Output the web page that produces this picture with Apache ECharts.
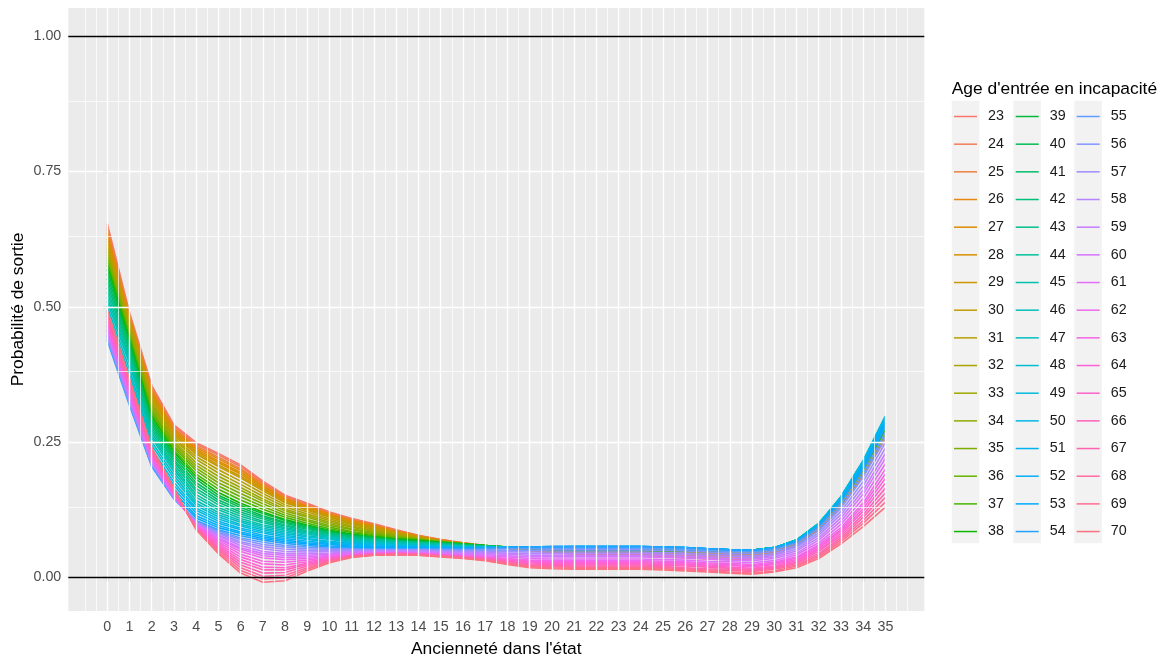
<!DOCTYPE html>
<html>
<head>
<meta charset="utf-8">
<script src="https://cdn.jsdelivr.net/npm/echarts@6/dist/echarts.min.js"></script>
<style>
  html, body { margin: 0; padding: 0; background: #ffffff; }
  #chart { width: 1163px; height: 660px; }
</style>
</head>
<body>
<div id="chart"></div>
<script>
// Ancienneté (years spent in the state) on the x axis
const anciennete = [0,1,2,3,4,5,6,7,8,9,10,11,12,13,14,15,16,17,18,19,20,21,22,23,24,25,26,27,28,29,30,31,32,33,34,35];
// Age at entry into incapacity, one curve per age
const ages = [23,24,25,26,27,28,29,30,31,32,33,34,35,36,37,38,39,40,41,42,43,44,45,46,
              47,48,49,50,51,52,53,54,55,56,57,58,59,60,61,62,63,64,65,66,67,68,69,70];
const yTicks = [0, 0.25, 0.5, 0.75, 1];

// Exit probability by ancienneté, for each entry age
const age23 = [.654,.490,.355,.282,.249,.229,.208,.178,.152,.137,.121,.109,.099,.088,.078,.070,.064,.059,.054,.050,.046,.043,.042,.041,.040,.038,.036,.034,.033,.034,.042,.058,.088,.132,.188,.256];
const age24 = [.648,.487,.352,.279,.246,.226,.205,.175,.150,.135,.120,.108,.098,.087,.077,.070,.064,.059,.054,.050,.046,.044,.043,.042,.041,.039,.037,.036,.035,.036,.044,.059,.089,.133,.189,.257];
const age25 = [.643,.484,.349,.276,.243,.222,.201,.173,.148,.133,.118,.106,.097,.086,.077,.069,.063,.059,.054,.050,.047,.044,.043,.043,.042,.040,.039,.038,.038,.038,.046,.061,.090,.134,.190,.258];
const age26 = [.637,.481,.346,.273,.240,.219,.198,.170,.146,.131,.117,.105,.096,.085,.076,.069,.063,.059,.054,.050,.047,.045,.044,.044,.043,.041,.040,.040,.040,.040,.048,.062,.091,.135,.191,.259];
const age27 = [.632,.479,.342,.271,.237,.215,.194,.168,.144,.130,.115,.104,.094,.085,.076,.068,.063,.058,.054,.051,.048,.046,.045,.044,.044,.043,.042,.041,.042,.043,.049,.064,.093,.135,.191,.259];
const age28 = [.626,.476,.339,.268,.234,.212,.191,.165,.142,.128,.114,.103,.093,.084,.075,.068,.063,.058,.054,.051,.048,.047,.046,.045,.045,.044,.043,.043,.044,.045,.051,.065,.094,.136,.192,.260];
const age29 = [.621,.473,.336,.265,.231,.208,.187,.163,.140,.126,.112,.101,.092,.083,.075,.067,.062,.058,.054,.051,.049,.047,.046,.046,.046,.045,.045,.045,.047,.047,.053,.067,.095,.137,.193,.261];
const age30 = [.615,.470,.333,.262,.228,.205,.184,.160,.138,.124,.111,.100,.091,.082,.074,.067,.062,.058,.054,.051,.049,.048,.047,.047,.047,.046,.046,.047,.049,.049,.055,.068,.096,.138,.194,.262];
const age31 = [.610,.466,.329,.258,.223,.199,.178,.155,.134,.121,.108,.098,.089,.081,.073,.067,.062,.058,.054,.051,.049,.048,.047,.047,.047,.047,.047,.047,.049,.049,.055,.068,.096,.139,.195,.264];
const age32 = [.606,.463,.324,.255,.218,.193,.172,.150,.130,.117,.105,.095,.087,.079,.073,.067,.062,.058,.055,.052,.050,.049,.048,.048,.048,.047,.047,.048,.049,.049,.055,.068,.097,.139,.196,.265];
const age33 = [.601,.459,.320,.251,.212,.187,.166,.145,.126,.114,.102,.093,.085,.078,.072,.066,.062,.058,.055,.052,.050,.049,.048,.048,.048,.048,.048,.048,.049,.049,.055,.068,.097,.140,.197,.267];
const age34 = [.596,.455,.316,.247,.207,.181,.161,.141,.123,.111,.099,.090,.083,.077,.071,.066,.062,.059,.055,.052,.050,.049,.049,.049,.049,.048,.048,.049,.050,.050,.055,.068,.097,.140,.198,.269];
const age35 = [.591,.451,.311,.243,.202,.175,.155,.136,.119,.107,.096,.088,.081,.075,.070,.066,.062,.059,.055,.052,.050,.049,.049,.049,.049,.049,.049,.049,.050,.050,.055,.068,.097,.141,.199,.270];
const age36 = [.587,.448,.307,.240,.197,.169,.149,.131,.115,.104,.093,.085,.079,.074,.070,.066,.062,.059,.056,.053,.051,.050,.049,.049,.049,.049,.049,.049,.050,.050,.055,.068,.098,.141,.200,.272];
const age37 = [.582,.444,.302,.236,.191,.163,.143,.126,.111,.100,.090,.083,.077,.072,.069,.065,.062,.059,.056,.053,.051,.050,.050,.050,.050,.050,.050,.050,.050,.050,.055,.068,.098,.142,.201,.273];
const age38 = [.577,.440,.298,.232,.186,.157,.137,.121,.107,.097,.087,.080,.075,.071,.068,.065,.062,.059,.056,.053,.051,.050,.050,.050,.050,.050,.050,.050,.050,.050,.055,.068,.098,.142,.202,.275];
const age39 = [.569,.434,.293,.227,.181,.152,.133,.118,.105,.095,.085,.079,.074,.070,.067,.064,.061,.059,.056,.053,.052,.051,.051,.051,.051,.051,.051,.050,.050,.050,.055,.068,.098,.143,.203,.277];
const age40 = [.560,.429,.288,.223,.175,.148,.129,.114,.102,.093,.084,.077,.073,.069,.066,.064,.061,.058,.056,.054,.052,.052,.052,.052,.052,.051,.051,.051,.050,.050,.055,.068,.099,.143,.205,.280];
const age41 = [.552,.423,.283,.218,.170,.143,.125,.111,.100,.091,.082,.076,.072,.068,.065,.063,.060,.058,.056,.054,.053,.052,.052,.052,.052,.052,.052,.051,.050,.050,.055,.068,.099,.144,.206,.282];
const age42 = [.544,.418,.278,.214,.164,.139,.121,.108,.097,.089,.081,.075,.071,.067,.065,.062,.060,.058,.056,.054,.053,.053,.053,.053,.053,.053,.052,.052,.051,.050,.055,.069,.099,.145,.207,.284];
const age43 = [.535,.412,.273,.209,.159,.134,.117,.104,.095,.086,.079,.073,.069,.066,.064,.061,.059,.057,.055,.054,.054,.054,.054,.054,.054,.053,.053,.052,.051,.050,.055,.069,.099,.145,.208,.286];
const age44 = [.527,.406,.268,.204,.153,.129,.113,.101,.092,.084,.077,.072,.068,.065,.063,.061,.058,.057,.055,.055,.054,.055,.055,.055,.055,.054,.053,.052,.051,.050,.055,.069,.100,.146,.210,.289];
const age45 = [.518,.401,.263,.200,.148,.125,.109,.097,.090,.082,.076,.070,.067,.064,.062,.060,.058,.056,.055,.055,.055,.055,.055,.055,.055,.054,.054,.053,.051,.050,.055,.069,.100,.146,.211,.291];
const age46 = [.510,.395,.258,.195,.142,.120,.105,.094,.087,.080,.074,.069,.066,.063,.061,.059,.057,.056,.055,.055,.055,.056,.056,.056,.056,.055,.054,.053,.051,.050,.055,.069,.100,.147,.212,.293];
const age47 = [.501,.385,.251,.189,.137,.116,.102,.091,.084,.077,.072,.067,.064,.062,.060,.058,.057,.056,.055,.055,.055,.056,.056,.056,.056,.055,.054,.053,.051,.050,.055,.069,.099,.149,.215,.297];
const age48 = [.492,.376,.245,.183,.133,.112,.098,.088,.081,.075,.070,.065,.063,.061,.059,.058,.056,.056,.055,.055,.056,.056,.056,.056,.056,.055,.054,.053,.051,.050,.055,.068,.099,.149,.216,.298];
const age49 = [.483,.366,.238,.176,.128,.108,.095,.085,.078,.072,.067,.063,.061,.059,.058,.057,.056,.055,.055,.055,.056,.056,.056,.056,.056,.055,.054,.053,.051,.050,.055,.068,.098,.149,.215,.298];
const age50 = [.474,.357,.232,.170,.124,.104,.091,.082,.075,.070,.065,.062,.060,.058,.057,.056,.055,.055,.055,.056,.056,.057,.057,.057,.057,.056,.055,.053,.051,.050,.055,.068,.098,.148,.213,.295];
const age51 = [.465,.347,.225,.164,.119,.100,.088,.078,.072,.067,.063,.060,.058,.057,.056,.055,.055,.055,.055,.056,.056,.057,.057,.057,.057,.056,.055,.053,.051,.050,.054,.067,.097,.146,.210,.291];
const age52 = [.456,.337,.218,.158,.114,.096,.084,.075,.069,.064,.061,.058,.056,.056,.055,.055,.054,.055,.055,.056,.057,.057,.057,.057,.057,.056,.055,.053,.051,.050,.054,.067,.096,.144,.207,.287];
const age53 = [.447,.328,.212,.151,.110,.092,.081,.072,.066,.062,.058,.056,.055,.054,.054,.054,.054,.054,.055,.056,.057,.057,.057,.057,.057,.056,.055,.053,.051,.050,.054,.066,.096,.142,.204,.283];
const age54 = [.438,.318,.205,.145,.105,.088,.077,.069,.063,.059,.056,.054,.053,.053,.053,.053,.053,.054,.055,.056,.057,.057,.057,.057,.057,.056,.055,.053,.051,.050,.054,.066,.095,.140,.200,.278];
const age55 = [.441,.321,.207,.146,.104,.086,.073,.065,.059,.056,.054,.053,.052,.052,.052,.052,.051,.052,.053,.053,.054,.054,.054,.054,.054,.053,.052,.050,.048,.047,.051,.063,.091,.134,.192,.268];
const age56 = [.444,.324,.209,.147,.103,.083,.070,.061,.056,.053,.052,.051,.051,.051,.051,.050,.050,.050,.050,.050,.051,.051,.051,.051,.051,.050,.049,.047,.045,.044,.048,.059,.086,.128,.185,.259];
const age57 = [.447,.327,.211,.148,.102,.081,.066,.057,.052,.050,.050,.050,.050,.050,.050,.049,.048,.048,.048,.047,.047,.047,.047,.047,.047,.046,.045,.043,.042,.040,.044,.056,.082,.122,.177,.249];
const age58 = [.450,.330,.213,.149,.101,.078,.063,.053,.048,.047,.048,.048,.049,.049,.049,.048,.047,.046,.045,.044,.044,.044,.044,.044,.044,.043,.042,.040,.039,.037,.041,.052,.078,.116,.169,.239];
const age59 = [.453,.333,.214,.150,.099,.076,.059,.048,.044,.044,.045,.047,.047,.048,.047,.046,.045,.044,.043,.041,.041,.041,.041,.041,.041,.040,.039,.037,.035,.034,.038,.049,.073,.110,.161,.229];
const age60 = [.456,.336,.216,.150,.098,.073,.055,.044,.041,.041,.043,.045,.046,.047,.046,.045,.043,.042,.040,.038,.038,.038,.038,.038,.038,.037,.036,.034,.032,.031,.035,.045,.069,.104,.154,.220];
const age61 = [.459,.339,.218,.151,.097,.071,.052,.040,.037,.038,.041,.044,.045,.046,.045,.043,.042,.040,.038,.035,.034,.034,.034,.034,.034,.033,.032,.030,.029,.027,.031,.042,.064,.098,.146,.210];
const age62 = [.462,.342,.220,.152,.096,.068,.048,.036,.033,.035,.039,.042,.044,.045,.044,.042,.040,.038,.035,.032,.031,.031,.031,.031,.031,.030,.029,.027,.026,.024,.028,.038,.060,.092,.138,.200];
const age63 = [.466,.345,.223,.154,.095,.065,.043,.030,.028,.032,.038,.041,.044,.045,.044,.042,.039,.037,.034,.030,.029,.029,.029,.029,.029,.028,.027,.025,.024,.022,.026,.036,.057,.088,.133,.191];
const age64 = [.470,.348,.225,.155,.094,.062,.038,.025,.023,.029,.036,.041,.043,.044,.043,.041,.039,.036,.032,.029,.027,.027,.027,.027,.027,.026,.025,.023,.022,.020,.024,.033,.054,.085,.127,.183];
const age65 = [.474,.351,.228,.157,.093,.059,.033,.019,.018,.026,.035,.040,.043,.044,.043,.041,.038,.035,.031,.027,.025,.025,.025,.025,.025,.024,.023,.021,.019,.017,.021,.031,.051,.081,.122,.174];
const age66 = [.478,.355,.230,.159,.092,.056,.028,.014,.014,.024,.033,.040,.043,.044,.043,.040,.038,.035,.030,.025,.024,.023,.023,.023,.023,.022,.021,.019,.017,.015,.019,.028,.048,.077,.116,.165];
const age67 = [.482,.358,.233,.160,.091,.053,.023,.008,.009,.021,.032,.039,.042,.043,.042,.040,.037,.034,.028,.023,.022,.021,.021,.021,.021,.020,.018,.016,.015,.013,.017,.026,.044,.073,.111,.156];
const age68 = [.486,.361,.235,.162,.090,.050,.018,.002,.004,.018,.030,.038,.042,.043,.042,.039,.036,.033,.027,.022,.020,.019,.019,.019,.019,.018,.016,.014,.013,.011,.015,.023,.041,.070,.105,.148];
const age69 = [.490,.364,.238,.163,.089,.047,.013,-.003,-.001,.015,.029,.038,.041,.042,.041,.039,.036,.032,.025,.020,.018,.017,.017,.017,.017,.016,.014,.012,.010,.008,.012,.021,.038,.066,.100,.139];
const age70 = [.494,.367,.240,.165,.088,.044,.008,-.009,-.006,.012,.027,.037,.041,.042,.041,.038,.035,.031,.024,.018,.016,.015,.015,.015,.015,.014,.012,.010,.008,.006,.010,.018,.035,.062,.094,.130];

const curves = [age23,age24,age25,age26,age27,age28,age29,age30,age31,age32,age33,age34,age35,age36,age37,age38,
                age39,age40,age41,age42,age43,age44,age45,age46,age47,age48,age49,age50,age51,age52,age53,age54,
                age55,age56,age57,age58,age59,age60,age61,age62,age63,age64,age65,age66,age67,age68,age69,age70];

// Evenly spaced hues in polar CIE-Luv (chroma 100, luminance 65)
function hclHex(h, c, l) {
  const hr = h * Math.PI / 180;
  const U = c * Math.cos(hr), V = c * Math.sin(hr);
  const Xn = 95.047, Yn = 100, Zn = 108.883;
  const den = Xn + 15 * Yn + 3 * Zn;
  const un = 4 * Xn / den, vn = 9 * Yn / den;
  const Y = l > 8 ? Yn * Math.pow((l + 16) / 116, 3) : Yn * l / 903.3;
  const up = U / (13 * l) + un, vp = V / (13 * l) + vn;
  const X = 9 * Y * up / (4 * vp);
  const Z = -X / 3 - 5 * Y + 3 * Y / vp;
  const x = X / 100, y = Y / 100, z = Z / 100;
  const lin = [
    3.240479 * x - 1.537150 * y - 0.498535 * z,
    -0.969256 * x + 1.875992 * y + 0.041556 * z,
    0.055648 * x - 0.204043 * y + 1.057311 * z
  ];
  return '#' + lin.map(v => {
    let g = v > 0.00304 ? 1.055 * Math.pow(v, 1 / 2.4) - 0.055 : 12.92 * v;
    g = Math.min(1, Math.max(0, g));
    return Math.round(g * 255).toString(16).padStart(2, '0');
  }).join('');
}
const palette = ages.map((a, i) => hclHex(15 + i * 360 / ages.length, 100, 65));

const FONT = "'Liberation Sans', Arial, Helvetica, sans-serif";
const X_MIN = -1.75, X_MAX = 36.75;
const Y_MIN = -0.062, Y_MAX = 1.052;

// panel grid: major lines on the breaks, thin lines half-way between
const xMinorLines = [];
for (let v = -1; v <= 36; v += 0.5) {
  if (!(Number.isInteger(v) && v >= 0 && v <= 35)) xMinorLines.push(v);
}
const yMinorLines = [0.125, 0.375, 0.625, 0.875];

const gridLineData = [];
xMinorLines.forEach(v => gridLineData.push({ xAxis: v, lineStyle: { color: '#ffffff', width: 0.7, type: 'solid' } }));
yMinorLines.forEach(v => gridLineData.push({ yAxis: v, lineStyle: { color: '#ffffff', width: 0.7, type: 'solid' } }));
anciennete.forEach(v => gridLineData.push({ xAxis: v, lineStyle: { color: '#ffffff', width: 1.4, type: 'solid' } }));
yTicks.forEach(v => gridLineData.push({ yAxis: v, lineStyle: { color: '#ffffff', width: 1.4, type: 'solid' } }));

const series = [{
  type: 'line',
  data: [],
  silent: true,
  z: 1,
  markLine: {
    silent: true, symbol: ['none', 'none'], animation: false,
    label: { show: false }, emphasis: { disabled: true },
    data: gridLineData
  }
}];

curves.forEach((vals, i) => {
  series.push({
    name: String(ages[i]),
    type: 'line',
    data: anciennete.map((x, j) => [x, vals[j]]),
    showSymbol: false,
    symbol: 'none',
    z: 3,
    lineStyle: { width: 1.6, color: palette[i] },
    itemStyle: { color: palette[i] },
    emphasis: { disabled: true },
    animation: false
  });
});

// reference lines at 0 and 1
series.push({
  type: 'line',
  data: [],
  silent: true,
  z: 5,
  markLine: {
    silent: true, symbol: ['none', 'none'], animation: false,
    label: { show: false }, emphasis: { disabled: true },
    lineStyle: { color: '#000000', width: 1.3, type: 'solid' },
    data: [{ yAxis: 0 }, { yAxis: 1 }]
  }
});

const legendLeft = [954, 1015.7, 1076.7];
const legends = [0, 1, 2].map(c => ({
  data: ages.slice(c * 16, c * 16 + 16).map(String),
  orient: 'vertical',
  left: legendLeft[c],
  top: 109.5,
  padding: 0,
  itemWidth: 23,
  itemHeight: 1.5,
  itemGap: 13.67,
  icon: 'rect',
  selectedMode: false,
  z: 5,
  textStyle: { fontFamily: FONT, fontSize: 14.3, color: '#1a1a1a', lineHeight: 14, padding: [0, 0, 0, 6] }
}));

const keyBoxes = [951.7, 1013.3, 1074.3].map(x => ({
  type: 'rect', z: 0, silent: true,
  shape: { x: x, y: 100.7, width: 27.6, height: 442.5 },
  style: { fill: '#f2f2f2' }
}));

const chart = echarts.init(document.getElementById('chart'), null, { renderer: 'canvas' });
chart.setOption({
  animation: false,
  backgroundColor: '#ffffff',
  grid: {
    left: 68.3, top: 8, width: 856, height: 603,
    outerBoundsMode: 'none',
    show: true, backgroundColor: '#ebebeb', borderWidth: 0
  },
  xAxis: {
    type: 'value', min: X_MIN, max: X_MAX,
    axisLine: { show: false },
    splitLine: { show: false },
    axisTick: { show: true, customValues: anciennete, length: 4.3, lineStyle: { color: '#333333', width: 1.2 } },
    axisLabel: { customValues: anciennete, color: '#4d4d4d', fontSize: 14.3, fontFamily: FONT, margin: 9.5 },
    name: "Ancienneté dans l'état",
    nameLocation: 'middle',
    nameGap: 30,
    nameMoveOverlap: false,
    nameTextStyle: { color: '#000000', fontSize: 17.4, fontFamily: FONT }
  },
  yAxis: {
    type: 'value', min: Y_MIN, max: Y_MAX,
    axisLine: { show: false },
    splitLine: { show: false },
    axisTick: { show: true, customValues: yTicks, length: 4.3, lineStyle: { color: '#333333', width: 1.2 } },
    axisLabel: { customValues: yTicks, color: '#4d4d4d', fontSize: 14.3, fontFamily: FONT, margin: 7,
                 formatter: v => v.toFixed(2) },
    name: 'Probabilité de sortie',
    nameLocation: 'middle',
    nameGap: 41.5,
    nameMoveOverlap: false,
    nameTextStyle: { color: '#000000', fontSize: 17.4, fontFamily: FONT }
  },
  legend: legends,
  graphic: [
    ...keyBoxes,
    {
      type: 'text', left: 951.7, top: 81, silent: true,
      style: { text: "Age d'entrée en incapacité", fill: '#000000', font: '17.4px ' + FONT }
    }
  ],
  series: series
});
</script>
</body>
</html>
